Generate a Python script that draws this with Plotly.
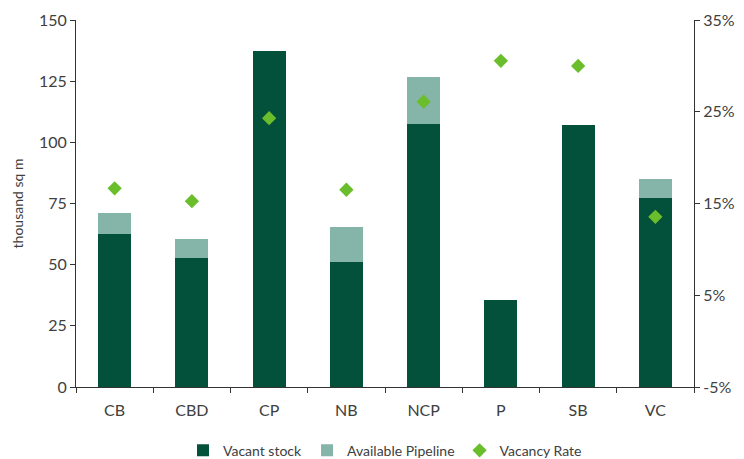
import plotly.graph_objects as go

# Office market by precinct
precincts = ["CB", "CBD", "CP", "NB", "NCP", "P", "SB", "VC"]
vacant_stock = [62.5, 52.7, 137.3, 51.1, 107.5, 35.6, 107.1, 77.2]      # thousand sq m
available_pipeline = [8.6, 7.8, 0.0, 14.3, 19.2, 0.0, 0.0, 7.8]        # thousand sq m
vacancy_rate = [16.65, 15.25, 24.3, 16.5, 26.1, 30.55, 30.0, 13.55]   # %
rate_ticks = [-5, 5, 15, 25, 35]
rate_tick_labels = ["-5%", "5%", "15%", "25%", "35%"]

dark_green = "#03513A"
light_green = "#84B5A8"
lime = "#6ABD2B"
text_color = "#404040"
font_family = "Lato, 'Open Sans', sans-serif"

fig = go.Figure()
fig.add_trace(go.Bar(
    x=precincts, y=vacant_stock, name="Vacant stock",
    marker=dict(color=dark_green, line=dict(width=0)),
))
fig.add_trace(go.Bar(
    x=precincts, y=available_pipeline, name="Available Pipeline",
    marker=dict(color=light_green, line=dict(width=0)),
))
fig.add_trace(go.Scatter(
    x=precincts, y=vacancy_rate, name="Vacancy Rate", yaxis="y2",
    mode="markers",
    marker=dict(symbol="diamond", size=11, color=lime, line=dict(width=0)),
))

fig.update_layout(
    width=744, height=459,
    barmode="stack", bargap=0.57,
    plot_bgcolor="white", paper_bgcolor="white",
    margin=dict(l=76, r=50, t=20, b=72, autoexpand=False),
    font=dict(family=font_family, size=15, color=text_color),
    showlegend=True,
    legend=dict(
        orientation="h", x=0.5, xanchor="center",
        yref="container", y=0.018, yanchor="middle",
        font=dict(size=14, color=text_color), traceorder="normal",
        itemwidth=30, tracegroupgap=0,
    ),
    xaxis=dict(
        showline=True, linecolor="#333333", linewidth=1,
        ticks="outside", ticklen=5, tickcolor="#333333",
        tickson="boundaries", showgrid=False, automargin=False,
        ticklabelstandoff=9,
        tickfont=dict(size=16, color=text_color),
    ),
    yaxis=dict(
        range=[0, 150], dtick=25, tick0=0,
        showline=True, linecolor="#333333", linewidth=1,
        ticks="outside", ticklen=5, tickcolor="#333333",
        showgrid=False, zeroline=False, automargin=False,
        title=dict(text="thousand sq m", font=dict(size=14, color=text_color), standoff=12),
        tickfont=dict(size=16, color=text_color),
    ),
    yaxis2=dict(
        range=[-5, 35], tickvals=rate_ticks, ticktext=rate_tick_labels,
        overlaying="y", side="right",
        showline=True, linecolor="#333333", linewidth=1,
        ticks="outside", ticklen=5, tickcolor="#333333",
        showgrid=False, zeroline=False, automargin=False,
        tickfont=dict(size=16, color=text_color),
    ),
)

fig.write_html("out.html")
